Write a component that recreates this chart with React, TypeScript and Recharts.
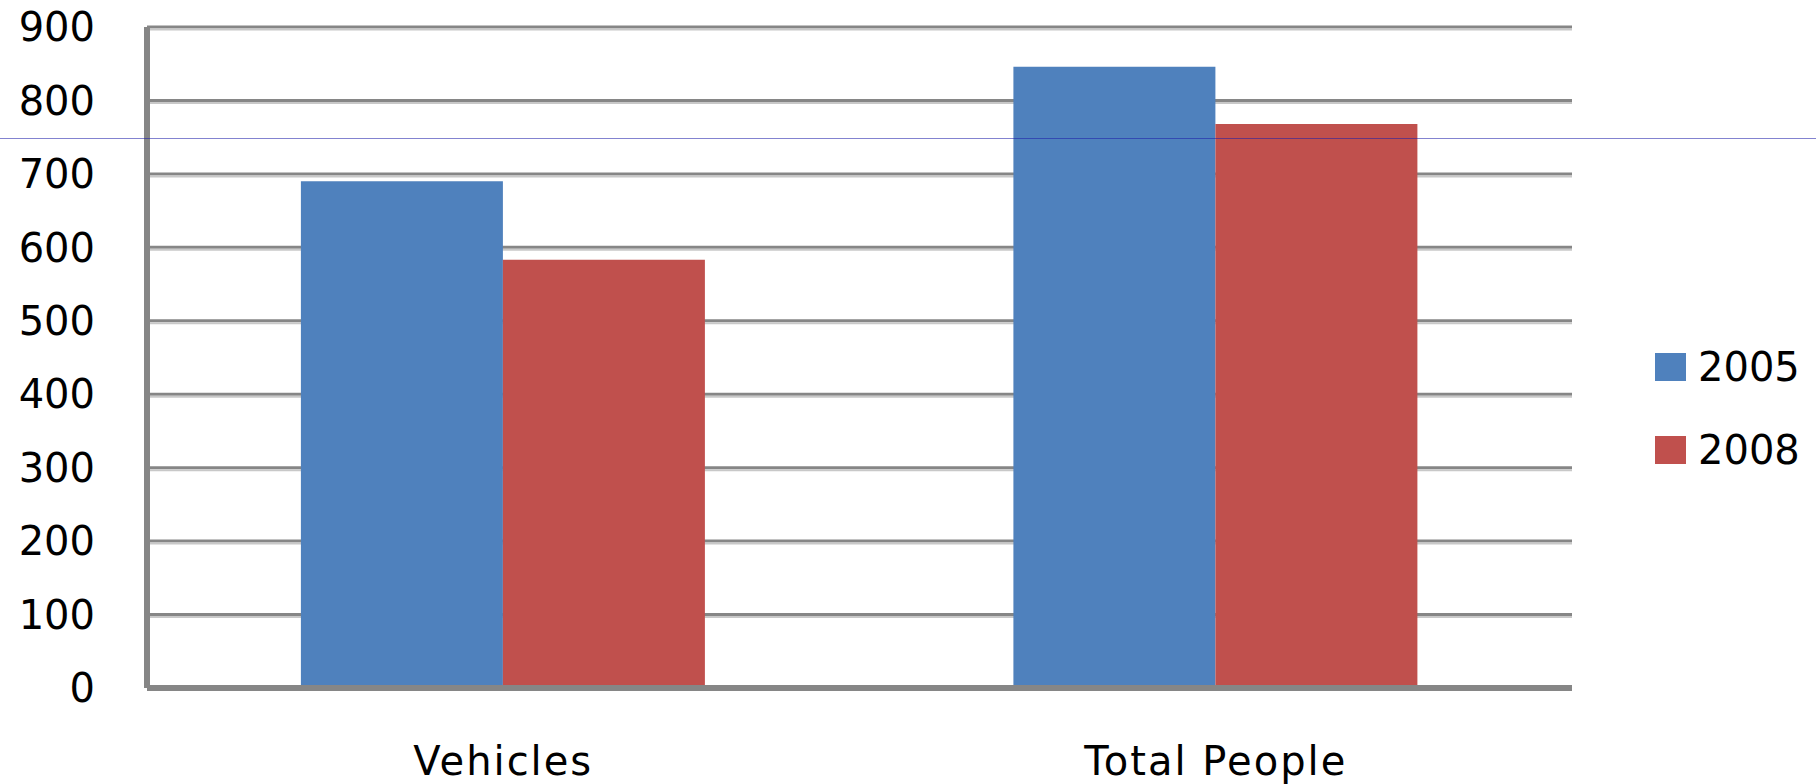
import React from 'react';
import { BarChart, Bar, XAxis, YAxis, CartesianGrid } from 'recharts';

const categories = ['Vehicles', 'Total People'];
const values2005 = [690, 846];
const values2008 = [583, 768];
const yTicks = [0, 100, 200, 300, 400, 500, 600, 700, 800, 900];
const seriesNames = ['2005', '2008'];
const seriesColors = ['#4F81BD', '#C0504D'];

const data = categories.map((name, i) => ({
  name,
  s2005: values2005[i],
  s2008: values2008[i],
}));

const FONT = '"DejaVu Sans", Verdana, sans-serif';

const GridLine = (props: any) => {
  const { x1, x2, y1 } = props;
  if (Math.abs(y1 - 688) < 2) return <g />;
  return (
    <g>
      <line x1={x1} x2={x2} y1={y1} y2={y1} stroke="#868686" strokeWidth={3} />
      <line x1={x1} x2={x2} y1={y1 + 2.5} y2={y1 + 2.5} stroke="#c8c8c8" strokeWidth={2} />
    </g>
  );
};

export default function App() {
  return (
    <div style={{ position: 'absolute', left: 0, top: 0, width: 1816, height: 784, background: '#fff' }}>
      <BarChart
        width={1816}
        height={784}
        data={data}
        margin={{ top: 27, right: 244, bottom: 0, left: 0 }}
        barCategoryGap="21.6%"
        barGap={0}
      >
        <CartesianGrid vertical={false} horizontal={GridLine as any} stroke="#868686" />
        <XAxis
          dataKey="name"
          interval={0}
          axisLine={{ stroke: '#868686', strokeWidth: 6 }}
          tickLine={false}
          tickSize={0}
          tickMargin={59}
          height={96}
          tick={{ fontSize: 40, fill: '#000', fontFamily: FONT, letterSpacing: 2 } as any}
        />
        <YAxis
          domain={[0, 900]}
          ticks={yTicks}
          width={147}
          axisLine={{ stroke: '#868686', strokeWidth: 6 }}
          tickLine={false}
          tickSize={0}
          tickMargin={52}
          tick={{ fontSize: 40, fill: '#000', fontFamily: FONT }}
        />
        <Bar dataKey="s2005" name={seriesNames[0]} fill={seriesColors[0]} isAnimationActive={false} />
        <Bar dataKey="s2008" name={seriesNames[1]} fill={seriesColors[1]} isAnimationActive={false} />
      </BarChart>
      <div
        style={{
          position: 'absolute',
          left: 1655,
          top: 325,
          width: 160,
          fontFamily: FONT,
          fontSize: 40,
          color: '#000',
        }}
      >
        {seriesNames.map((n, i) => (
          <div key={n} style={{ display: 'flex', alignItems: 'center', height: 83 }}>
            <div style={{ width: 31, height: 28, background: seriesColors[i], marginRight: 12 }} />
            <span style={{ lineHeight: '40px' }}>{n}</span>
          </div>
        ))}
      </div>
      <div
        style={{
          position: 'absolute',
          left: 0,
          top: 138,
          width: 1816,
          height: 1,
          background: 'rgba(30,30,170,0.55)',
          pointerEvents: 'none',
        }}
      />
    </div>
  );
}
